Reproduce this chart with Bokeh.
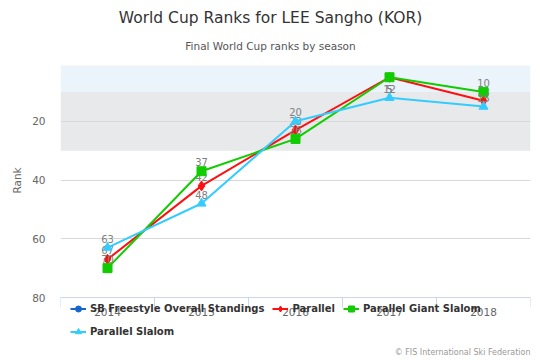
from bokeh.plotting import figure
from bokeh.models import (Range1d, FixedTicker, BoxAnnotation, Label, Legend, LegendItem,
                          ColumnDataSource, Span)
from bokeh.core.properties import value
from bokeh.embed import file_html
from bokeh.resources import INLINE

# ---- data ----
seasons = [2014, 2015, 2016, 2017, 2018]
series_names = ["SB Freestyle Overall Standings", "Parallel", "Parallel Giant Slalom", "Parallel Slalom"]
sb_freestyle = [None, None, None, None, None]   # no ranked seasons
parallel = [67, 42, 23, 5, 13]
parallel_gs = [70, 37, 26, 5, 10]
parallel_sl = [63, 48, 20, 12, 15]
band_edges = [1, 10, 30]
y_ticks = [20, 40, 60, 80]
y_min, y_max = 1, 80
title_text = "World Cup Ranks for LEE Sangho (KOR)"
subtitle_text = "Final World Cup ranks by season"
credits_text = "© FIS International Ski Federation"

# ---- layout ----
FONT = "DejaVu Sans"
W, H = 540, 360
FL, FR = 60, 10
PLOT_TOP, PLOT_BOTTOM = 65, 297          # pixel rows of y_min / y_max inside the full-height frame
per_px = (y_max - y_min) / (PLOT_BOTTOM - PLOT_TOP)
y_top = y_min - PLOT_TOP * per_px
y_bot = y_max + (H - PLOT_BOTTOM) * per_px
x_lo, x_hi = seasons[0] - 0.5, seasons[-1] + 0.5

p = figure(width=W, height=H, output_backend="svg", toolbar_location=None, title=None,
           x_range=Range1d(x_lo, x_hi), y_range=Range1d(y_bot, y_top),
           x_axis_location=None,
           min_border_left=FL, min_border_right=FR, min_border_top=0, min_border_bottom=0)
p.outline_line_color = None
p.background_fill_color = "white"
p.border_fill_color = "white"

# plot bands
p.add_layout(BoxAnnotation(top=band_edges[0], bottom=band_edges[1], left=x_lo, right=x_hi,
                           fill_color="#ebf3fb", fill_alpha=1, line_color=None, level="image"))
p.add_layout(BoxAnnotation(top=band_edges[1], bottom=band_edges[2], left=x_lo, right=x_hi,
                           fill_color="#e8e9eb", fill_alpha=1, line_color=None, level="image"))

# y axis
p.yaxis.ticker = FixedTicker(ticks=y_ticks)
p.yaxis.axis_line_color = None
p.yaxis.major_tick_line_color = None
p.yaxis.major_tick_out = 0
p.yaxis.minor_tick_line_color = None
p.yaxis.major_label_text_font = FONT
p.yaxis.major_label_text_font_size = "10.5px"
p.yaxis.major_label_text_color = "#666666"
p.yaxis.major_label_standoff = 15
p.yaxis.axis_label = "Rank"
p.yaxis.axis_label_text_font = FONT
p.yaxis.axis_label_text_font_size = "10.5px"
p.yaxis.axis_label_text_font_style = "normal"
p.yaxis.axis_label_text_color = "#666666"
p.yaxis.axis_label_standoff = 6
p.ygrid.grid_line_color = "#d8d8d8"
p.ygrid.ticker = FixedTicker(ticks=y_ticks)
p.xgrid.grid_line_color = None

# x axis (line, tick marks between seasons, season labels)
p.add_layout(Span(location=y_max, dimension="width", line_color="#ccd6eb", line_width=1))
bounds = [s - 0.5 for s in seasons] + [seasons[-1] + 0.5]
p.ray(x=bounds, y=[y_max] * len(bounds), length=10, length_units="screen",
      angle=-90, angle_units="deg", line_color="#ccd6eb", line_width=1)
p.text(x=seasons, y=[y_max] * len(seasons), text=[str(s) for s in seasons], y_offset=14,
       text_align="center", text_baseline="middle", text_font=value(FONT),
       text_font_size="10.5px", text_color="#666666")

colors = ["#1466cc", "#ff1010", "#11cc00", "#33ccff"]
markers = ["circle", "diamond", "square", "triangle"]
sizes = [8, 10, 9, 9]
data = [sb_freestyle, parallel, parallel_gs, parallel_sl]

items = []
for name, vals, c, m, s in zip(series_names, data, colors, markers, sizes):
    yv = [float("nan") if v is None else v for v in vals]
    src = ColumnDataSource(dict(x=seasons, y=yv,
                                t=["" if v is None else str(v) for v in vals],
                                off=[16 if (v is not None and v < 8) else -5 for v in vals]))
    r1 = p.line("x", "y", source=src, line_color=c, line_width=2)
    r2 = p.scatter("x", "y", source=src, marker=m, size=s, fill_color=c, line_color=c)
    p.text("x", "y", text="t", source=src, y_offset="off", text_align="center",
           text_baseline="bottom", text_font=value(FONT), text_font_size="10px",
           text_color="#808080")
    items.append(LegendItem(label=name, renderers=[r1, r2]))

legend = Legend(items=items, orientation="horizontal", ncols=3, location=(10, 21),
                padding=0, margin=0,
                border_line_color=None, background_fill_alpha=0, spacing=8,
                glyph_width=16, glyph_height=15, label_height=15, label_standoff=4,
                label_text_font=FONT, label_text_font_size="10px",
                label_text_font_style="bold", label_text_color="#333333")
p.add_layout(legend, "center")

cx = W / 2 - FL
p.add_layout(Label(x=cx, y=H - 17, x_units="screen", y_units="screen",
                   text=title_text, text_align="center",
                   text_baseline="middle", text_font=FONT, text_font_size="15.5px",
                   text_color="#333333"))
p.add_layout(Label(x=cx, y=H - 45, x_units="screen", y_units="screen",
                   text=subtitle_text, text_align="center",
                   text_baseline="middle", text_font=FONT, text_font_size="10.5px",
                   text_color="#555555"))
p.add_layout(Label(x=W - FL - FR, y=8, x_units="screen", y_units="screen",
                   text=credits_text, text_align="right",
                   text_baseline="middle", text_font=FONT, text_font_size="8px",
                   text_color="#999999"))

open("out.html", "w").write(file_html(p, INLINE))
